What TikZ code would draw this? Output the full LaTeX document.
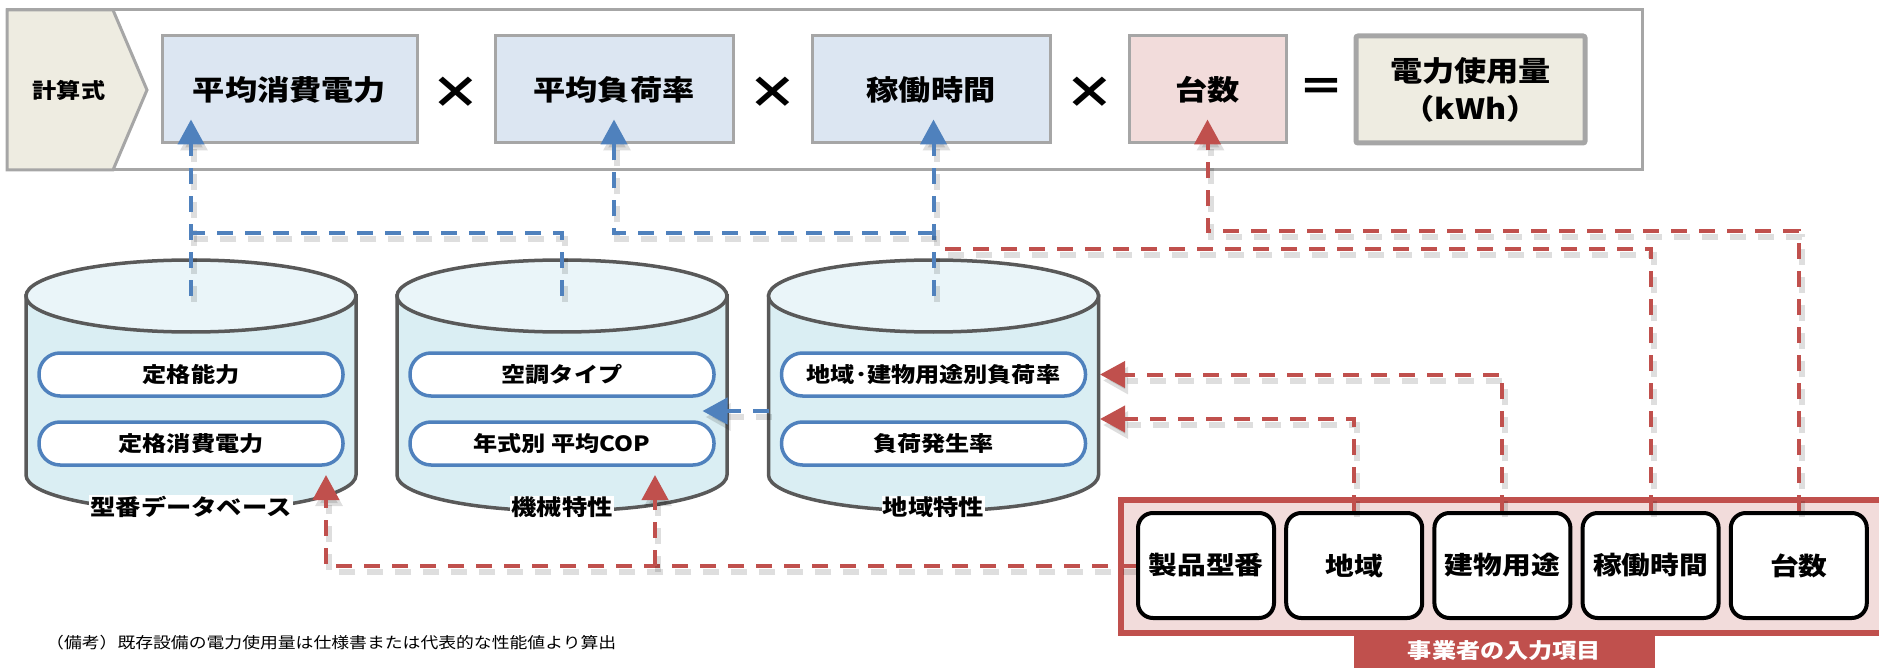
\documentclass[tikz,border=0pt]{standalone}
\usepackage{fontspec}
\setmainfont{Noto Sans CJK JP}[FakeStretch=1.15]
\usetikzlibrary{arrows.meta, positioning, calc}
\definecolor{framegray}{HTML}{A6A6A6}
\definecolor{sandfill}{HTML}{EEECE1}
\definecolor{calcblue}{HTML}{DCE6F2}
\definecolor{calcpink}{HTML}{F2DCDB}
\definecolor{linkblue}{HTML}{4F81BD}
\definecolor{linkred}{HTML}{C0504D}
\definecolor{cyltop}{HTML}{EAF5F9}
\definecolor{cylbody}{HTML}{DAEEF3}
\definecolor{cylline}{HTML}{595959}

\begin{document}
\begin{tikzpicture}[
		x=1pt, y=-1pt,
		calcbox/.style={
				draw=framegray, line width=3pt, fill=calcblue,
				minimum width=#1, minimum height=107pt, inner sep=0pt,
				font=\fontsize{28}{38}\selectfont\bfseries
			},
		operator/.style={inner sep=0pt, font=\fontsize{44}{44}\selectfont\bfseries},
		item/.style={
				draw=linkblue, line width=3.5pt, fill=white, rounded corners=21pt,
				minimum width=304pt, minimum height=43pt, inner sep=0pt,
				font=\fontsize{21}{24}\selectfont\bfseries
			},
		dblabel/.style={fill=white, inner sep=1pt, font=\fontsize{22}{24}\selectfont\bfseries},
		entry/.style={
				draw=black, line width=4pt, fill=white, rounded corners=15pt,
				minimum width=136pt, minimum height=105pt, inner sep=0pt,
				font=\fontsize{25}{28}\selectfont\bfseries
			},
		shade/.style={preaction={draw=black, opacity=0.13, line width=6pt, dash pattern=on 16pt off 12pt, transform canvas={shift={(3pt,-6pt)}}}},
		bluelink/.style={shade, draw=linkblue, line width=4pt, dash pattern=on 16pt off 12pt},
		redlink/.style={shade, draw=linkred, line width=4pt, dash pattern=on 16pt off 12pt},
		headed/.style={-{Triangle[length=25pt, width=26pt]}}
	]
	\useasboundingbox (0,0) rectangle (1879,668);

	\draw[framegray, line width=3pt, fill=white] (7,10) rectangle (1642,170);
	\filldraw[draw=framegray, line width=3pt, fill=sandfill] (7,10) -- (113,10) -- (147,90) -- (113,170) -- (7,170) -- cycle;
	\node[font=\fontsize{21}{24}\selectfont\bfseries] (formula) at (69,90) {計算式};

	\node[calcbox=255pt] (avgpower) at (289.5,89.5) {平均消費電力};
	\node[calcbox=238pt] (avgload) at (614,89.5) {平均負荷率};
	\node[calcbox=238pt] (optime) at (931,89.5) {稼働時間};
	\node[calcbox=157pt, fill=calcpink] (units) at (1207.5,89.5) {台数};
	\node[calcbox=229pt, fill=sandfill, line width=5pt, rounded corners=2pt, align=center] (energy) at (1470.5,89.5) {電力使用量\\（kWh）};

	\node[operator] (times1) at (456,93) {×};
	\node[operator] (times2) at (773,93) {×};
	\node[operator] (times3) at (1090,93) {×};
	\node[operator, font=\fontsize{40}{40}\selectfont\bfseries] (equals) at (1321,90) {＝};

	\foreach \cx/\name/\title in {191/typedb/型番データベース, 562/machdb/機械特性, 933.5/areadb/地域特性} {
		\filldraw[draw=cylline, line width=3.5pt, fill=cylbody] (\cx-165,296) -- (\cx-165,475) arc[start angle=180, end angle=360, x radius=165pt, y radius=36pt] -- (\cx+165,296) -- cycle;
		\filldraw[draw=cylline, line width=3.5pt, fill=cyltop] (\cx,296) ellipse[x radius=165pt, y radius=36pt];
		\coordinate (\name top) at (\cx,296);
		\node[dblabel] (\name) at (\cx,507) {\title};
	}

	\node[item] (rated) at (191,374.5) {定格能力};
	\node[item] (ratedpower) at (191,443.5) {定格消費電力};
	\node[item] (actype) at (562,374.5) {空調タイプ};
	\node[item] (yearcop) at (562,443.5) {年式別 平均COP};
	\node[item] (areaload) at (933.5,374.5) {地域･建物用途別負荷率};
	\node[item] (loadfreq) at (933.5,443.5) {負荷発生率};

	\node[draw=linkred, line width=6pt, fill=calcpink, minimum width=790pt, minimum height=133pt, anchor=north west] (inputs) at (1118,497) {};
	\foreach \i/\name/\title in {0/model/製品型番, 1/region/地域, 2/usage/建物用途, 3/hours/稼働時間, 4/count/台数}
		\node[entry] (\name) at (1206+148.2*\i,565.5) {\title};
	\node[fill=linkred, text=white, minimum width=301pt, minimum height=40pt, anchor=north, font=\fontsize{21}{24}\selectfont\bfseries] (inputtab) at (1504.5,630) {事業者の入力項目};

	\node[anchor=west, inner sep=0pt, font=\fontsize{15.5}{18}\selectfont] (remark) at (46,643) {（備考）既存設備の電力使用量は仕様書または代表的な性能値より算出};

	\coordinate (bus1) at (0,233);
	\coordinate (bus2) at (0,249);
	\coordinate (bus3) at (0,231);
	\coordinate (typedbin) at (326,475);
	\coordinate (machdbin) at (655,475);
	\coordinate (areadbright) at (1100,0);
	\coordinate (freqtip) at (1100,419);

	\draw[bluelink, headed, shorten >=-25pt] (typedbtop) -- (typedbtop |- avgpower.south);
	\draw[bluelink] (machdbtop) |- (typedbtop |- bus1);
	\draw[bluelink, headed, shorten >=-25pt] (areadbtop) -- (areadbtop |- optime.south);
	\draw[bluelink, headed, shorten >=-25pt] (areadbtop |- bus1) -| (avgload.south);
	\draw[bluelink, headed] (areadbtop) ++(-165,115) -- ++(-66,0);

	\draw[redlink, headed] (model.west) -| (typedbin);
	\draw[redlink, headed] (model.west -| machdbin) -- (machdbin);
	\draw[redlink, headed] (usage.north) |- (areadbright |- areaload.east);
	\draw[redlink, headed] (region.north) |- (freqtip);
	\draw[redlink] (hours.north) |- (areadbtop |- bus2);
	\draw[redlink, headed, shorten >=-25pt] (count.north) |- (units.south |- bus3) -- (units.south);
\end{tikzpicture}
\end{document}
